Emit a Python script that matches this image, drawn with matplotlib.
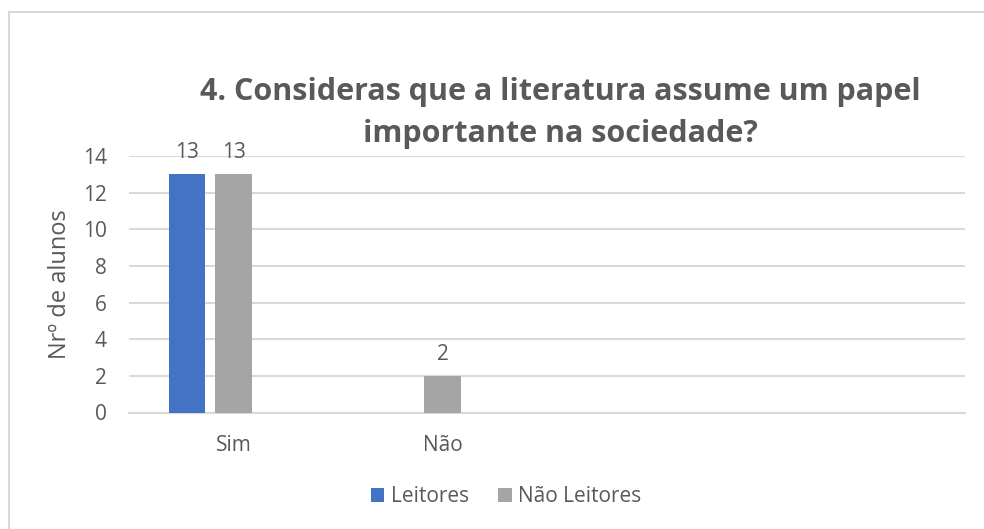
import matplotlib
matplotlib.use('Agg')
import matplotlib.pyplot as plt
import numpy as np
from matplotlib.patches import Rectangle

categories = ["Sim", "Não", "", ""]
leitores = [13, np.nan, np.nan, np.nan]
nao_leitores = [13, 2, np.nan, np.nan]
series_names = ["Leitores", "Não Leitores"]
title_lines = ["4. Consideras que a literatura assume um papel", "importante na sociedade?"]
ylabel = "Nrº de alunos"

TXT = '#595959'
GRID = '#d9d9d9'
plt.rcParams['font.family'] = ['Open Sans', 'DejaVu Sans']

fig = plt.figure(figsize=(9.84, 5.29), dpi=100)
fig.patches.append(Rectangle((9 / 984, -0.1), 1.2, 1 - 12 / 529 + 0.1, transform=fig.transFigure,
                             fill=False, edgecolor=GRID, linewidth=1.5))

ax = fig.add_axes([129 / 984, 1 - 412.5 / 529, 836 / 984, 256.5 / 529])

x = np.arange(len(categories))
w = 0.175
offsets = [-0.222, 0.0]
colors = ['#4472C4', '#A5A5A5']
for vals, off, col, name in zip([leitores, nao_leitores], offsets, colors, series_names):
    ax.bar(x + off, vals, width=w, color=col, label=name, zorder=3)
    for xi, v in zip(x + off, vals):
        if not np.isnan(v):
            ax.annotate(f"{int(v)}", (xi, v), xytext=(0, 8), textcoords='offset points',
                        ha='center', va='bottom', fontsize=15, color=TXT)

ax.set_xlim(-0.5, len(categories) - 0.5)
ax.set_ylim(0, 14)
ax.set_yticks(np.arange(0, 15, 2))
ax.set_xticks(x)
ax.set_xticklabels(categories)
ax.yaxis.grid(True, color=GRID, linewidth=1.5, zorder=0)
for s in ['top', 'right', 'left']:
    ax.spines[s].set_visible(False)
ax.spines['bottom'].set_color(GRID)
ax.spines['bottom'].set_linewidth(1.5)
ax.tick_params(axis='both', length=0, labelsize=15, labelcolor=TXT)
ax.tick_params(axis='y', pad=16)
ax.tick_params(axis='x', pad=16)
ax.set_ylabel(ylabel, fontsize=17, color=TXT)
ax.yaxis.set_label_coords((72 - 129) / 836, 0.5)

for i, line in enumerate(title_lines):
    fig.text(560 / 984, 1 - (100 + 42 * i) / 529, line, ha='center', va='baseline', fontsize=22,
             fontweight='bold', color=TXT)

ax.legend(loc='center', bbox_to_anchor=(506 / 984, 1 - 497 / 529), bbox_transform=fig.transFigure,
          ncol=2, frameon=False, fontsize=15, labelcolor=TXT, handlelength=0.65, handleheight=0.65,
          handletextpad=0.3, columnspacing=1.4)

fig.savefig('out.png', dpi=100)
